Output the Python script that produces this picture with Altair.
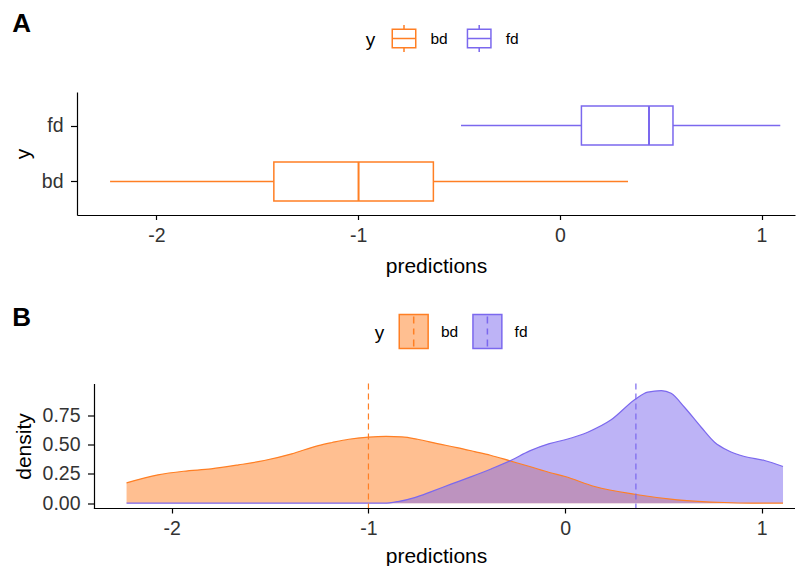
import altair as alt
import pandas as pd

# ---------------- data ----------------
groups = ["bd", "fd"]
colors = ["#FF7F24", "#7B68EE"]
fills = ["rgba(255,127,36,0.5)", "rgba(123,104,238,0.5)"]
panel_labels = ["A", "B"]

# Panel A: box-plot statistics of predictions
box_lo = [-2.23, -0.49]
box_q1 = [-1.418, 0.107]
box_med = [-0.998, 0.442]
box_q3 = [-0.627, 0.561]
box_hi = [0.338, 1.093]

# Panel B: density curves
bd_x = [-2.23, -2.07, -1.94, -1.80, -1.66, -1.53, -1.39, -1.255, -1.185, -1.10,
        -1.0, -0.91, -0.83, -0.75, -0.65, -0.55, -0.46, -0.38, -0.28, -0.18, -0.08,
        0.0, 0.15, 0.36, 0.57, 0.81, 0.95, 1.108]
bd_density = [0.173, 0.241, 0.272, 0.292, 0.326, 0.363, 0.42, 0.49, 0.516, 0.544,
              0.562, 0.568, 0.564, 0.544, 0.507, 0.473, 0.439, 0.408, 0.36, 0.312, 0.261,
              0.227, 0.142, 0.074, 0.029, 0.006, 0.001, 0.0]
fd_x = [-2.23, -0.92, -0.85, -0.765, -0.68, -0.58, -0.48, -0.38, -0.28, -0.18,
        -0.08, 0.0, 0.115, 0.234, 0.36, 0.42, 0.489, 0.539, 0.607, 0.692,
        0.76, 0.828, 0.912, 1.014, 1.108]
fd_density = [0.0, 0.0, 0.014, 0.048, 0.099, 0.162, 0.224, 0.289, 0.36, 0.445,
              0.507, 0.54, 0.604, 0.709, 0.888, 0.944, 0.958, 0.935, 0.816, 0.646,
              0.519, 0.448, 0.397, 0.363, 0.312]
means = [-1.0, 0.36]

x_ticks = [-2, -1, 0, 1]
density_ticks = [0, 0.25, 0.5, 0.75]

# ---------------- tables ----------------
half = 0.349
box_df = pd.DataFrame({
    "grp": groups, "pos": [1, 2],
    "lo": box_lo, "q1": box_q1, "med": box_med, "q3": box_q3, "hi": box_hi,
})
box_df["ylo"] = box_df["pos"] - half
box_df["yhi"] = box_df["pos"] + half

dens_df = pd.concat([
    pd.DataFrame({"grp": groups[0], "x": bd_x, "density": bd_density}),
    pd.DataFrame({"grp": groups[1], "x": fd_x, "density": fd_density}),
])
mean_df = pd.DataFrame({"grp": groups, "mean": means})

FONT = "Liberation Sans"
label_expr_y = "[" + ",".join(f"'{g}'" for g in groups) + "][datum.value - 1]"
W = 718                      # both panels share the same left origin and width
SHIFT_B = 17                 # panel B's y axis sits 17px right of panel A's
xA_dom = [-2.394, 1.166]
xB_dom = [-2.482, 1.169]     # B's data area starts at -2.396 (axis position)
xB_start = -2.396
yB_dom = [-0.045, 1.018]


def x_axis(title_pad, **kw):
    return alt.Axis(values=x_ticks, title="predictions", labelExpr="datum.value + ''",
                    tickSize=4.5, labelPadding=6.5, titlePadding=title_pad, **kw)


# ---------------- panel A ----------------
box_path = ("M-0.87,-0.69H0.87V0.69H-0.87Z M-0.87,0H0.87 "
            "M0,-1V-0.69 M0,0.69V1")
legend_a = alt.Legend(orient="none", legendX=288.7, legendY=-68,
                      direction="horizontal", title="y", titleOrient="left",
                      titleAnchor="middle", titleBaseline="middle",
                      titlePadding=13.8, labelOffset=12, columnPadding=15.2,
                      symbolType=box_path, symbolSize=729, symbolStrokeWidth=1.5,
                      symbolFillColor="white", padding=0)
stroke_scale = alt.Scale(domain=groups, range=colors)

baseA = alt.Chart(box_df)
xA = alt.X("lo:Q", scale=alt.Scale(domain=xA_dom, nice=False, zero=False), axis=x_axis(11))
yA = alt.Y("pos:Q", scale=alt.Scale(domain=[0.4, 2.6], nice=False, zero=False),
           axis=alt.Axis(values=[1, 2], labelExpr=label_expr_y, title="y",
                         tickSize=6.5, labelPadding=7.5, titlePadding=8))

wh1 = baseA.mark_rule(strokeWidth=1.5).encode(
    x=xA, x2="q1:Q", y=yA,
    stroke=alt.Stroke("grp:N", scale=stroke_scale, legend=legend_a))
wh2 = baseA.mark_rule(strokeWidth=1.5).encode(
    x="q3:Q", x2="hi:Q", y="pos:Q",
    stroke=alt.Stroke("grp:N", scale=stroke_scale))
box = baseA.mark_bar(fill="white", strokeWidth=1.5).encode(
    x="q1:Q", x2="q3:Q", y="ylo:Q", y2="yhi:Q",
    stroke=alt.Stroke("grp:N", scale=stroke_scale))
med = baseA.mark_rule(strokeWidth=2).encode(
    x="med:Q", y="ylo:Q", y2="yhi:Q",
    stroke=alt.Stroke("grp:N", scale=stroke_scale))
txtA = alt.Chart(pd.DataFrame({"t": [panel_labels[0]]})).mark_text(
    align="left", baseline="alphabetic", fontSize=26, fontWeight="bold",
    font=FONT, color="black").encode(text="t:N", x=alt.value(-64.7), y=alt.value(-60))

panelA = alt.layer(wh1, wh2, box, med, txtA).properties(width=W, height=123)

# ---------------- panel B ----------------
dens_path = ("M-0.85,-1H0.85V1H-0.85Z M0,-0.88V-0.47 M0,-0.18V0.18 M0,0.47V0.88")
legend_b = alt.Legend(orient="none", legendX=297.7, legendY=-70,
                      direction="horizontal", title="y", titleOrient="left",
                      titleAnchor="middle", titleBaseline="middle",
                      titlePadding=11, labelOffset=9.2, columnPadding=10.7,
                      symbolType=dens_path, symbolSize=1156, symbolStrokeWidth=1.5,
                      padding=0)

xB = alt.X("x:Q", scale=alt.Scale(domain=xB_dom, nice=False, zero=False),
           axis=x_axis(7, domain=False))
yB = alt.Y("density:Q", stack=None,
           scale=alt.Scale(domain=yB_dom, nice=False, zero=False),
           axis=alt.Axis(values=density_ticks, format=".2f", title="density", offset=-SHIFT_B,
                         tickSize=6.5, labelPadding=7.5, titlePadding=8))

area = alt.Chart(dens_df).mark_area(interpolate="monotone").encode(
    x=xB, y=yB, y2=alt.datum(0),
    fill=alt.Fill("grp:N", scale=alt.Scale(domain=groups, range=fills), legend=legend_b))
line = alt.Chart(dens_df).mark_line(interpolate="monotone", strokeWidth=1.2).encode(
    x="x:Q", y="density:Q",
    stroke=alt.Stroke("grp:N", scale=stroke_scale, legend=legend_b))
rule_layers = []
for g, c in zip(groups, colors):
    rule_layers.append(
        alt.Chart(mean_df).transform_filter(alt.datum.grp == g)
        .mark_rule(strokeDash=[6, 4], strokeWidth=1.2, color=c)
        .encode(x="mean:Q"))
# x-axis baseline of panel B, from the axis start to the end of the domain
axis_line = alt.Chart(pd.DataFrame({"k": [0]})).mark_rule(color="black", strokeWidth=1.2).encode(
    x=alt.datum(xB_start), x2=alt.datum(xB_dom[1]), y=alt.datum(yB_dom[0]))
txtB = alt.Chart(pd.DataFrame({"t": [panel_labels[1]]})).mark_text(
    align="left", baseline="alphabetic", fontSize=26, fontWeight="bold",
    font=FONT, color="black").encode(text="t:N", x=alt.value(-64.7), y=alt.value(-58))

panelB = alt.layer(area, line, *rule_layers, axis_line, txtB).properties(width=W, height=125)

chart = alt.ConcatChart(
    concat=[panelA, panelB], columns=1, spacing=27.5,
    padding={"left": 4, "top": 3, "right": 0, "bottom": 0},
).resolve_scale(
    x="independent", stroke="independent", fill="independent"
).resolve_legend(
    stroke="independent", fill="independent"
).configure_view(stroke=None).configure_axis(
    grid=False, domainColor="black", domainWidth=1.2, tickColor="black", tickWidth=1.2,
    labelFont=FONT, labelFontSize=19.5, labelColor="#333333",
    titleFont=FONT, titleFontSize=21, titleFontWeight="normal", titleColor="black",
).configure_legend(
    labelFont=FONT, labelFontSize=15.5, labelColor="black",
    titleFont=FONT, titleFontSize=19, titleFontWeight="normal", titleColor="black",
)

chart.save("out.html", embed_options={"renderer": "svg", "actions": False})
